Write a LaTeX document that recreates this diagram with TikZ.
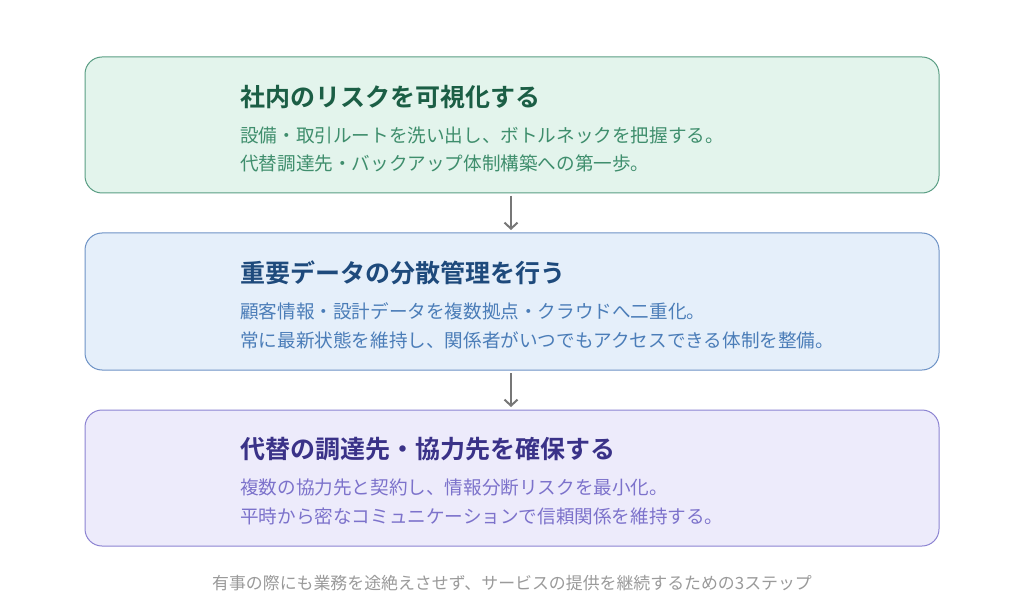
\documentclass[tikz,border=0pt]{standalone}
\usepackage{fontspec}
\newfontfamily\jp{Noto Sans CJK JP}
\newfontfamily\jpb{Noto Sans CJK JP Bold}
\usetikzlibrary{arrows.meta}
\definecolor{gfill}{HTML}{E3F4EC}
\definecolor{gdraw}{HTML}{5A9E84}
\definecolor{gtitle}{HTML}{1B5E45}
\definecolor{gbody}{HTML}{3F8E6D}
\definecolor{bfill}{HTML}{E5EFFA}
\definecolor{bdraw}{HTML}{6E93C6}
\definecolor{btitle}{HTML}{1E4A7C}
\definecolor{bbody}{HTML}{4B7DB8}
\definecolor{pfill}{HTML}{EDEBFB}
\definecolor{pdraw}{HTML}{8C83D2}
\definecolor{ptitle}{HTML}{3A3288}
\definecolor{pbody}{HTML}{7C72CB}
\definecolor{arr}{HTML}{777777}
\definecolor{cap}{HTML}{9A9A9A}
\tikzset{
  x=1pt,y=-1pt,
  stepbox/.style={rounded corners=17pt, line width=1pt},
  ttl/.style={anchor=west, inner sep=0pt, font=\jpb\fontsize{25}{29}\selectfont},
  bdy/.style={anchor=west, inner sep=0pt, font=\jp\fontsize{18.6}{22}\selectfont},
  conn/.style={draw=arr, line width=2pt, -{Straight Barb[length=6pt,width=13pt]}}
}
\begin{document}
\begin{tikzpicture}
\useasboundingbox (0,0) rectangle (1024,612);
\fill[white] (0,0) rectangle (1024,612);
% boxes
\draw[stepbox, fill=gfill, draw=gdraw] (85,57) rectangle (939,193);
\coordinate (b1s) at (511,196);
\draw[stepbox, fill=bfill, draw=bdraw] (85,233) rectangle (939,370);
\coordinate (b2n) at (511,230);
\coordinate (b2s) at (511,373);
\draw[stepbox, fill=pfill, draw=pdraw] (85,410) rectangle (939,546);
\coordinate (b3n) at (511,407);
% texts
\node[ttl, text=gtitle] (t1) at (240,97) {社内のリスクを可視化する};
\node[bdy, text=gbody] (t1a) at (240,135) {設備・取引ルートを洗い出し、ボトルネックを把握する。};
\node[bdy, text=gbody] (t1b) at (240,163) {代替調達先・バックアップ体制構築への第一歩。};
\node[ttl, text=btitle] (t2) at (240,273) {重要データの分散管理を行う};
\node[bdy, text=bbody] (t2a) at (240,311) {顧客情報・設計データを複数拠点・クラウドへ二重化。};
\node[bdy, text=bbody] (t2b) at (240,340) {常に最新状態を維持し、関係者がいつでもアクセスできる体制を整備。};
\node[ttl, text=ptitle] (t3) at (240,449) {代替の調達先・協力先を確保する};
\node[bdy, text=pbody] (t3a) at (240,488) {複数の協力先と契約し、情報分断リスクを最小化。};
\node[bdy, text=pbody] (t3b) at (240,516) {平時から密なコミュニケーションで信頼関係を維持する。};
\node[inner sep=0pt, text=cap, font=\jp\fontsize{16.9}{20}\selectfont] (capn) at (512,583) {有事の際にも業務を途絶えさせず、サービスの提供を継続するための3ステップ};
% arrows
\draw[conn] (b1s) -- (b2n);
\draw[conn] (b2s) -- (b3n);
\end{tikzpicture}
\end{document}
